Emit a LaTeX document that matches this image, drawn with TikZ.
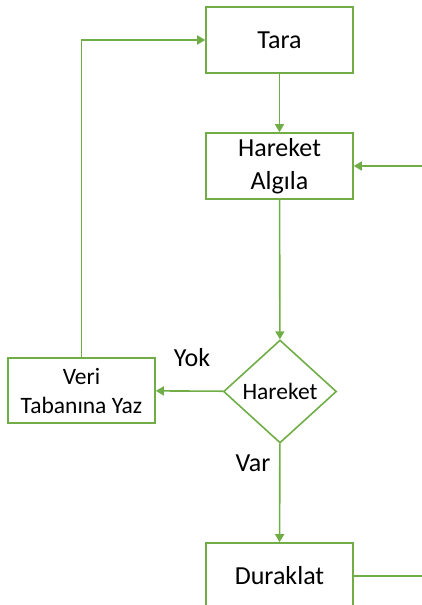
\documentclass[tikz,border=0pt]{standalone}
\usepackage{fontspec}
\setmainfont{Carlito}
\usetikzlibrary{shapes.geometric,arrows.meta}
\definecolor{flowgreen}{RGB}{112,173,71}

\begin{document}
\begin{tikzpicture}[x=1pt,y=-1pt]

%
% Styles
%
\tikzstyle{stepbox} = [rectangle,draw=flowgreen,thick,line width=1.6pt,minimum width=147pt,minimum height=66pt,align=center,font=\fontsize{26}{33}\selectfont]
\tikzstyle{decision} = [diamond,draw=flowgreen,line width=1.6pt,minimum width=113pt,minimum height=103pt,inner sep=0pt,font=\fontsize{23.5}{28}\selectfont]
\tikzstyle{flow} = [draw=flowgreen,line width=1.6pt,-{Triangle[length=8pt,width=9pt]}]
\tikzstyle{plain} = [draw=flowgreen,line width=1.6pt]
\tikzstyle{answer} = [font=\fontsize{26}{31}\selectfont]

\clip (0,0) rectangle (422,605);

\node[stepbox] (tara)    at (279.5, 40)  {Tara};
\node[stepbox] (algila)  at (279.5,166)  {Hareket\\Algıla};
\node[decision] (hareket) at (280,391.5) {Hareket};
\node[stepbox,minimum height=65pt,font=\fontsize{23.5}{29}\selectfont] (veri) at (81.5,390.5) {Veri\\Tabanına Yaz};
\node[stepbox] (duraklat) at (279.5,576) {Duraklat};

\node[answer] (yok) at (192,358) {Yok};
\node[answer] (var) at (253,463) {Var};

\coordinate (sagalt) at (440,576);
\coordinate (sagust) at (440,166);

\draw[flow] (tara) -- (algila);
\draw[flow] (algila) -- (hareket);
\draw[flow] (hareket) -- (veri);
\draw[flow] (hareket) -- (duraklat);
\draw[flow] (veri.north) |- (tara.west);
\draw[plain] (duraklat.east) -- (sagalt) -- (sagust);
\draw[flow] (sagust) -- (algila.east);

\end{tikzpicture}
\end{document}
